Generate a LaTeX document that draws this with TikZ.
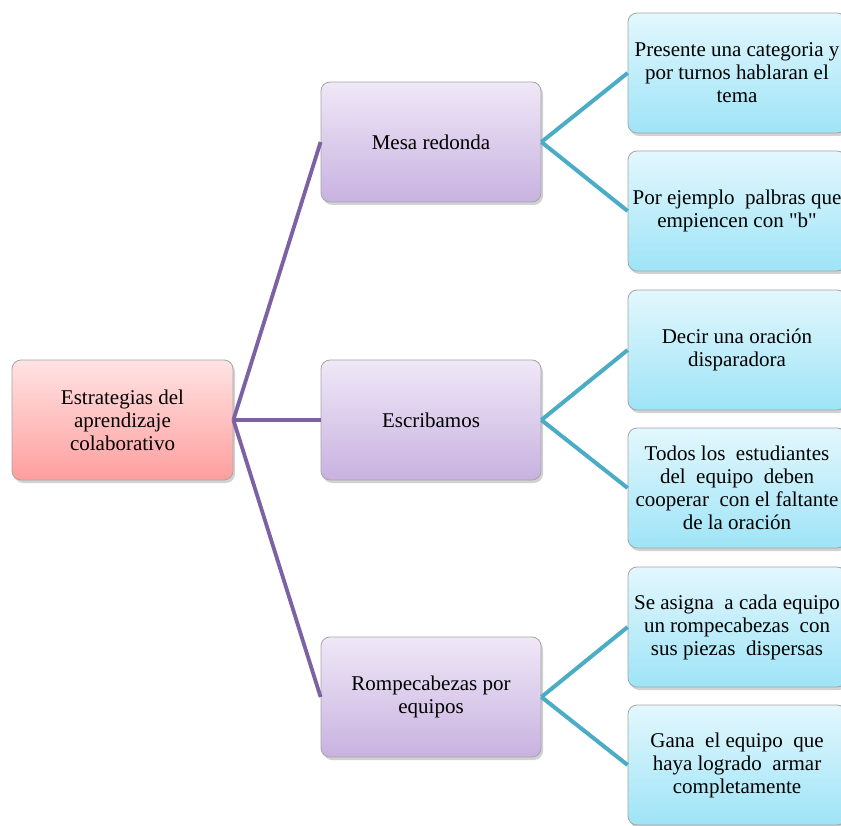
\documentclass[tikz,border=0pt]{standalone}
\usepackage{fontspec}
\setmainfont{Liberation Serif}[Ligatures=TeXOff]
\usetikzlibrary{shadows}
\definecolor{rootTop}{HTML}{FFE3E3}
\definecolor{rootBot}{HTML}{FF9E9E}
\definecolor{midTop}{HTML}{EFE8F7}
\definecolor{midBot}{HTML}{C8B2E0}
\definecolor{leafTop}{HTML}{E3F7FD}
\definecolor{leafBot}{HTML}{9EE4F7}
\definecolor{purpleLine}{HTML}{7C62A3}
\definecolor{tealLine}{HTML}{4BACC6}
\tikzset{
  box/.style={draw=black!35, line width=0.8pt, rounded corners=9pt, inner sep=0pt,
    align=center, font=\fontsize{21}{23}\selectfont,
    drop shadow={opacity=0.35, shadow xshift=2pt, shadow yshift=-3pt}},
  rootbox/.style={box, minimum width=221pt, minimum height=120pt, top color=rootTop, bottom color=rootBot},
  midbox/.style={box, minimum width=220pt, minimum height=120pt, top color=midTop, bottom color=midBot},
  leafbox/.style={box, minimum width=218pt, minimum height=120pt, top color=leafTop, bottom color=leafBot},
  plink/.style={draw=purpleLine, line width=3.8pt},
  tlink/.style={draw=tealLine, line width=4pt}
}
\begin{document}
\begin{tikzpicture}[x=1pt,y=1pt]
\clip (0,0) rectangle (841,-826);
\fill[white] (0,0) rectangle (841,-826);
\node[rootbox] (root) at (122.5,-420) {Estrategias del\\aprendizaje\\colaborativo};
\node[midbox] (m1) at (431,-142) {Mesa redonda};
\node[midbox] (m2) at (431,-420) {Escribamos};
\node[midbox] (m3) at (431,-697) {Rompecabezas por\\equipos};
\node[leafbox] (l1) at (737,-73) {Presente una categoria y\\por turnos hablaran el\\tema};
\node[leafbox] (l2) at (737,-211) {Por ejemplo\ \ palbras que\\empiencen con "b"};
\node[leafbox] (l3) at (737,-350) {Decir una oración\\disparadora};
\node[leafbox] (l4) at (737,-488) {Todos los\ \ estudiantes\\del\ \ equipo\ \ deben\\cooperar\ \ con el faltante\\de la oración};
\node[leafbox] (l5) at (737,-627) {Se asigna\ \ a cada equipo\\un rompecabezas\ \ con\\sus piezas\ \ dispersas};
\node[leafbox] (l6) at (737,-765) {Gana\ \ el equipo\ \ que\\haya logrado\ \ armar\\completamente};
\draw[plink] (root.east) -- (m1.west);
\draw[plink] (root.east) -- (m2.west);
\draw[plink] (root.east) -- (m3.west);
\draw[tlink] (m1.east) -- (l1.west);
\draw[tlink] (m1.east) -- (l2.west);
\draw[tlink] (m2.east) -- (l3.west);
\draw[tlink] (m2.east) -- (l4.west);
\draw[tlink] (m3.east) -- (l5.west);
\draw[tlink] (m3.east) -- (l6.west);
\end{tikzpicture}
\end{document}
